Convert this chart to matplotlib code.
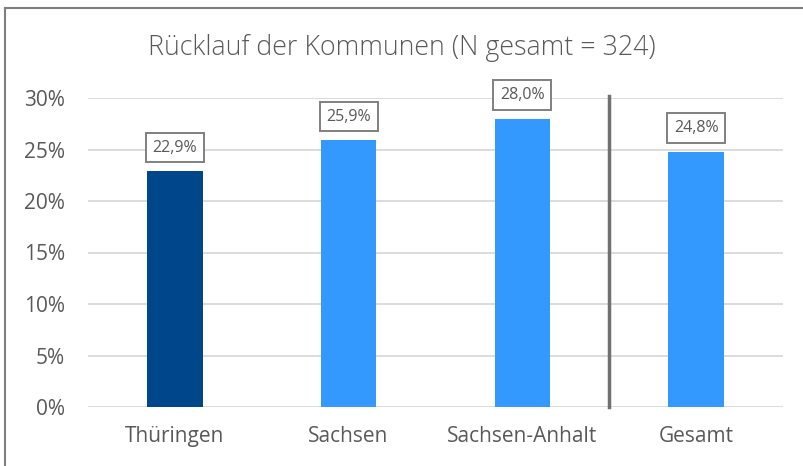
import matplotlib
matplotlib.use('Agg')
import matplotlib.pyplot as plt
from matplotlib.lines import Line2D
from matplotlib.ticker import FuncFormatter

laender = ['Thüringen', 'Sachsen', 'Sachsen-Anhalt', 'Gesamt']
ruecklauf = [22.9, 25.9, 28.0, 24.8]
farben = ['#00468B', '#3399FF', '#3399FF', '#3399FF']
titel = 'Rücklauf der Kommunen (N gesamt = 324)'

plt.rcParams['font.family'] = ['Open Sans', 'DejaVu Sans']
textColor = '#595959'


def main():
    fig = plt.figure(figsize=(8.04, 4.66), dpi=100)
    ax = fig.add_axes([88 / 804, 1 - 407 / 466, (783 - 88) / 804, (407 - 98) / 466])

    x = list(range(len(laender)))
    ax.bar(x, ruecklauf, width=0.32, color=farben, zorder=3)
    for a, b in zip(x, ruecklauf):
        ax.annotate(('%.1f%%' % b).replace('.', ','), (a, b), xytext=(0, 17), textcoords='offset points',
                    ha='center', va='center', fontsize=11.5, color=textColor,
                    bbox=dict(boxstyle='square,pad=0.42', fc='white', ec='#808080', lw=1.4), zorder=5)

    # Trennlinie vor "Gesamt"
    ax.plot([2.5, 2.5], [0, 30.2], color='#717171', lw=2.5, clip_on=False, zorder=4)

    ax.set_xlim(-0.5, len(laender) - 0.5)
    ax.set_ylim(0, 30)
    ax.set_yticks(range(0, 31, 5))
    ax.yaxis.set_major_formatter(FuncFormatter(lambda v, p: '%d%%' % v))
    ax.set_xticks(x)
    ax.set_xticklabels(laender)
    ax.tick_params(axis='both', length=0, labelsize=15, labelcolor=textColor)
    ax.tick_params(axis='y', pad=16.5)
    ax.tick_params(axis='x', pad=14)
    ax.grid(axis='y', color='#D9D9D9', lw=1.3, zorder=0)
    for s in ax.spines.values():
        s.set_visible(False)

    fig.text(0.5, 1 - 48 / 466, titel, ha='center', va='center', fontsize=19.3,
             color=textColor, fontweight='light')

    # Rahmen oben und links
    fig.add_artist(Line2D([5 / 804, 1], [1 - 8 / 466, 1 - 8 / 466], color='#7F7F7F', lw=1.5))
    fig.add_artist(Line2D([5 / 804, 5 / 804], [0, 1 - 8 / 466], color='#7F7F7F', lw=1.5))

    fig.savefig('out.png', dpi=100)


if __name__ == "__main__":
    main()
